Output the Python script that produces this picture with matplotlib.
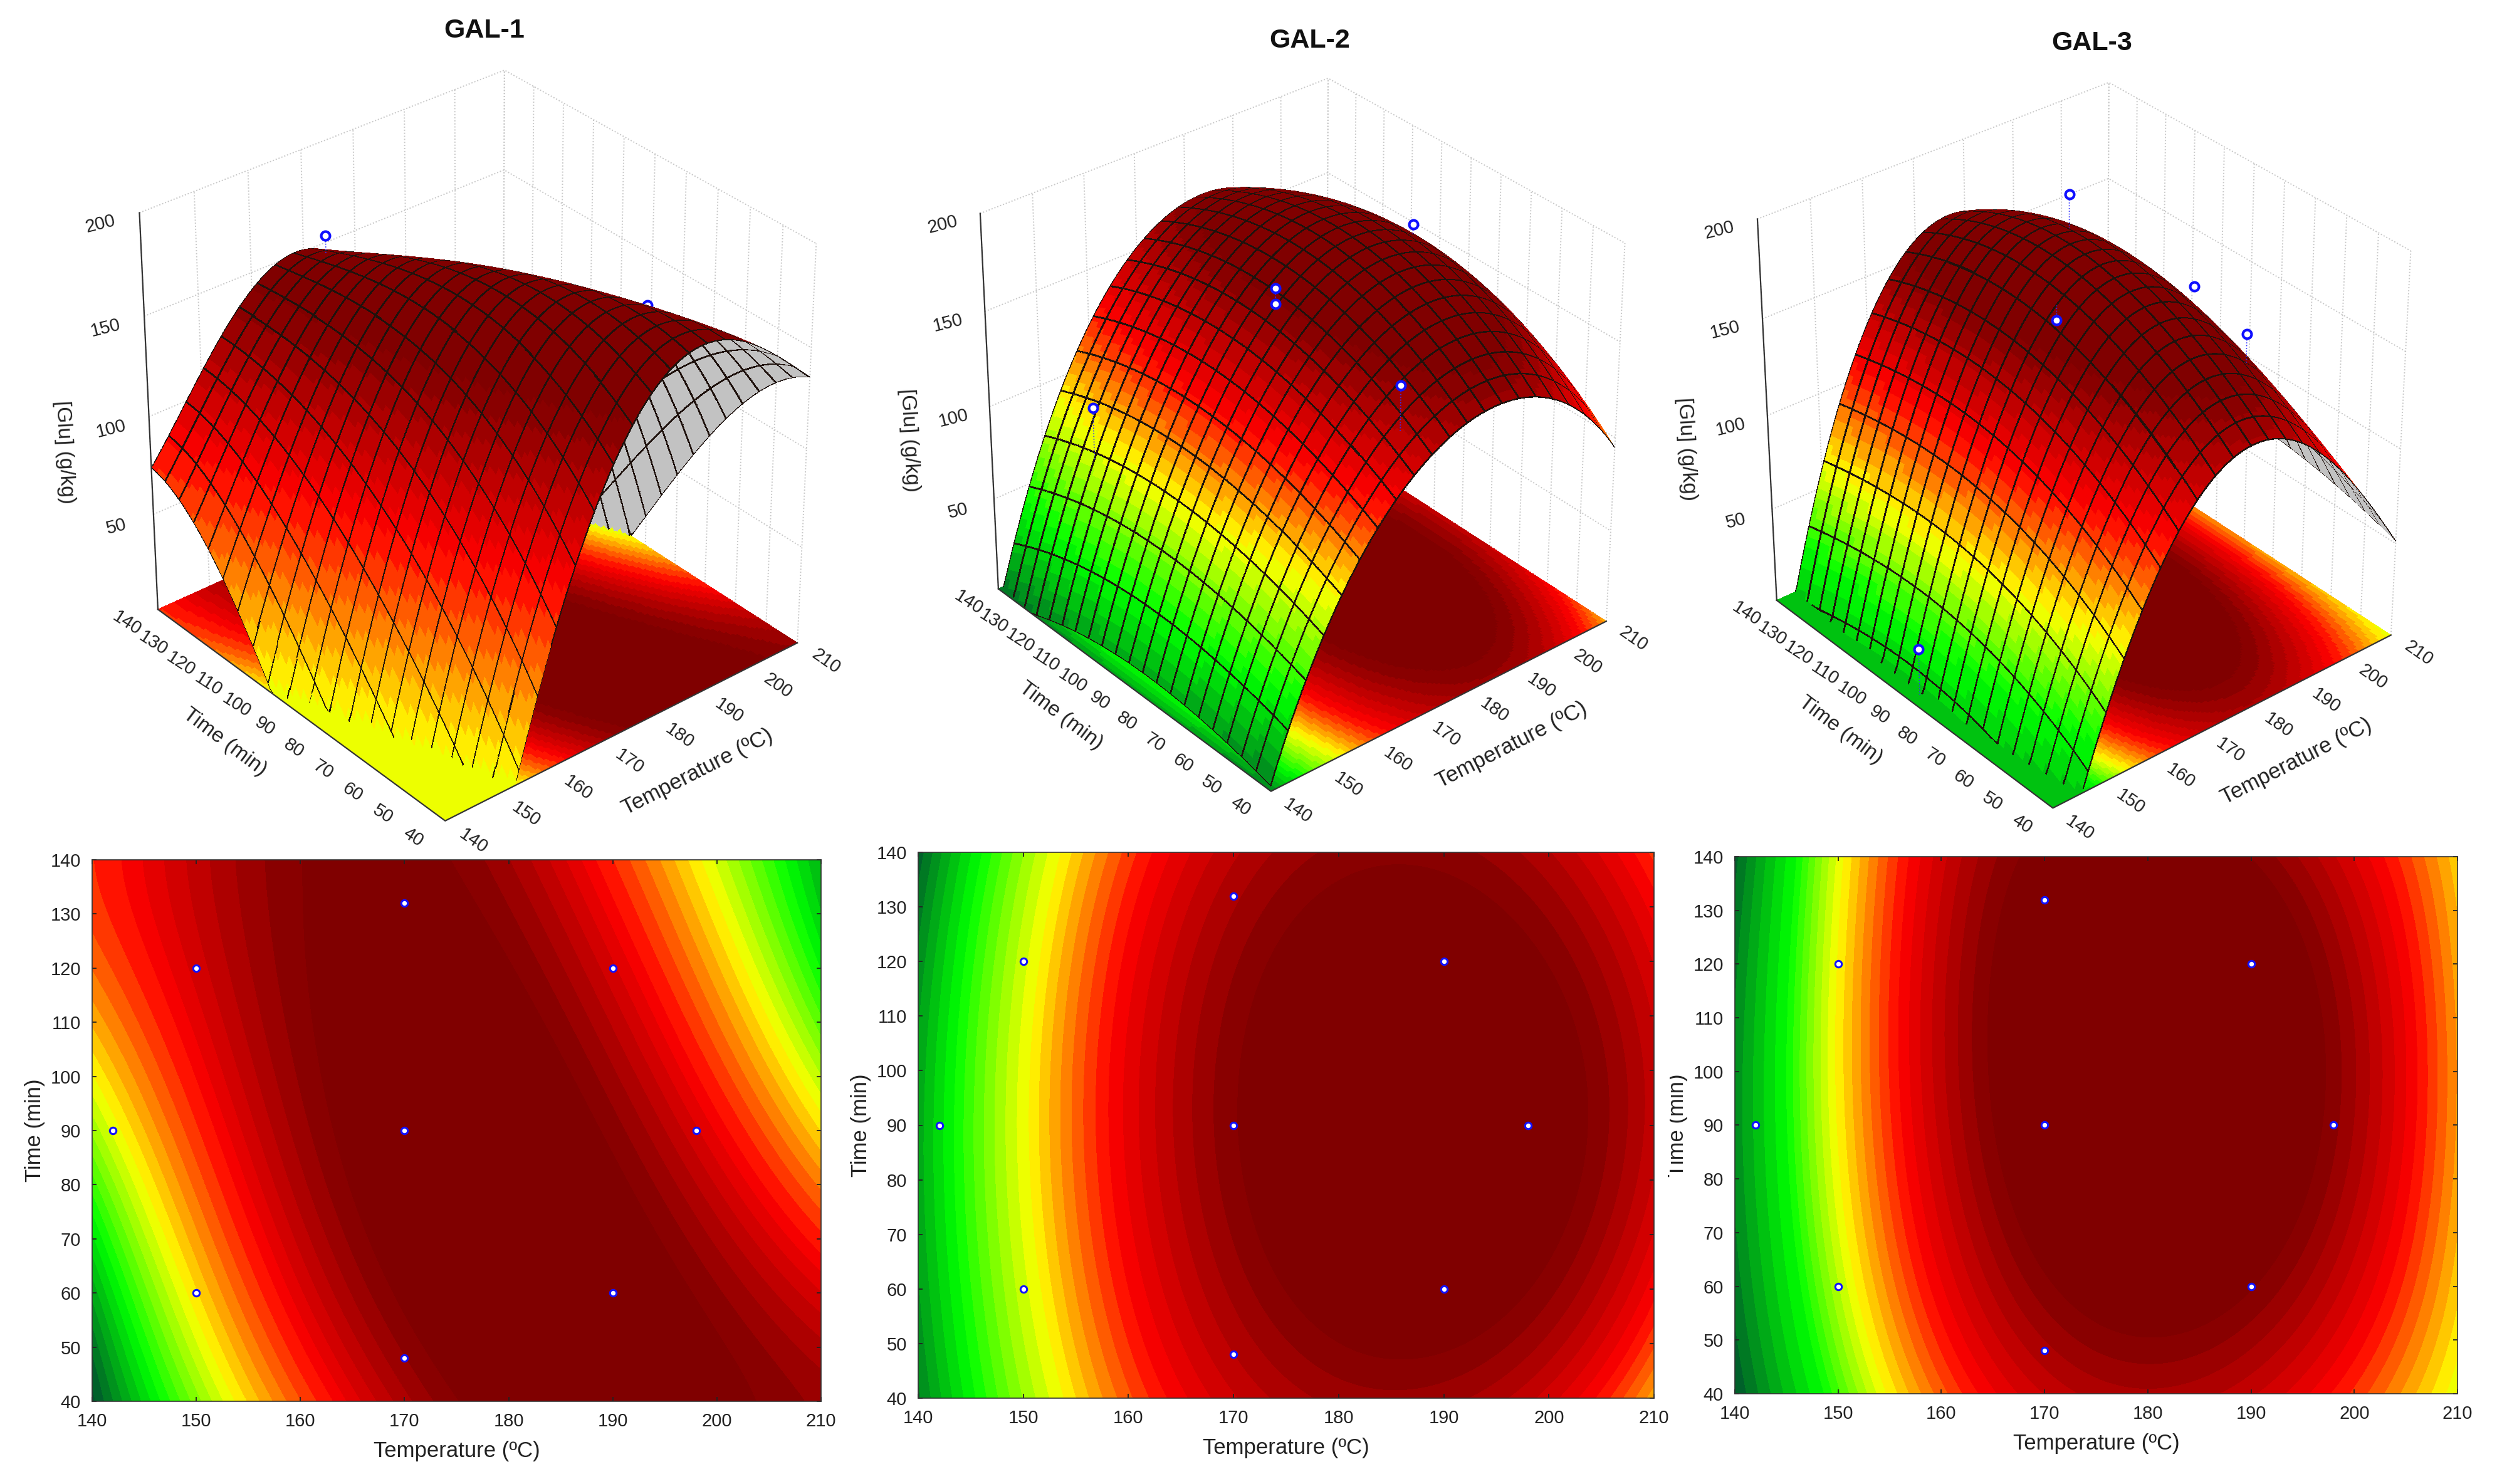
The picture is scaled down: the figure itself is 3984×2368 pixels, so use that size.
import numpy as np
import matplotlib
matplotlib.use("Agg")
import matplotlib.pyplot as plt
from numpy.polynomial import polynomial as P
from matplotlib.patches import Rectangle

plt.rcParams['font.family'] = ['Liberation Sans', 'DejaVu Sans']

W, H = 3984, 2368

titles = ["GAL-1", "GAL-2", "GAL-3"]
temp_nodes = [140, 150, 160, 170, 180, 190, 200, 210]
time_nodes = [40, 60, 80, 100, 120, 140]
temp_ticks = [140, 150, 160, 170, 180, 190, 200, 210]
time_ticks = [40, 50, 60, 70, 80, 90, 100, 110, 120, 130, 140]
glu_ticks = [50, 100, 150, 200]

glu_gal1 = [[-150, -117, -50, 0, 50, 72],
            [-45, 12, 50, 88, 110, 118],
            [72, 110, 125, 138, 145, 145],
            [125, 150, 160, 165, 158, 150],
            [155, 167, 171, 165, 150, 130],
            [163, 165, 155, 128, 110, 80],
            [160, 140, 110, 72, 25, -15],
            [135, 97, 55, -20, -72, -105]]
glu_gal2 = [[2, 11, 14, 13, 6, -8],
            [67, 76, 80, 81, 77, 66],
            [108, 122, 129, 129, 124, 112],
            [140, 152, 161, 162, 154, 145],
            [152, 166, 178, 179, 169, 158],
            [155, 170, 181, 182, 172, 160],
            [135, 158, 170, 171, 160, 145],
            [98, 122, 140, 141, 132, 115]]
glu_gal3 = [[-50, -35, -28, -28, -32, -45],
            [31, 50, 61, 65, 65, 61],
            [92, 114, 127, 132, 131, 123],
            [130, 153, 169, 174, 172, 160],
            [138, 165, 183, 190, 186, 170],
            [130, 156, 173, 179, 174, 157],
            [100, 123, 138, 142, 136, 118],
            [58, 70, 80, 82, 78, 72]]
tables = [glu_gal1, glu_gal2, glu_gal3]

# height differences read between the 3D views and the contour maps
lift_gal1 = [[0, 0, 0, 0, 0, 0], [0, 0, 0, 0, 0, 0], [0, 0, 0, 0, -6, -7],
             [4, 4, 4, 2, -4, -6], [8, 8, 8, 8, 6, 6], [8, 8, 8, 8, 8, 4],
             [8, 8, 8, 8, 4, 0], [0, 0, 0, 0, 0, 0]]
lift_gal2 = [[0, 0, 0, 0, 0, 0], [0, 0, 0, 0, 0, 0], [2, 2, 2, 4, 6, 6],
             [-7, 0, 2, 6, 12, 9], [-9, 0, 2, 6, 14, 9], [-11, -2, 0, 2, 6, 0],
             [-4, -6, -8, -8, -6, -4], [-4, -4, -4, -4, -4, -4]]
lift_gal3 = [[0, 0, 0, 0, 0, 0], [0, 0, 0, 0, 0, 0], [0, 0, 0, 0, 0, 0],
             [0, 0, 0, 0, -2, -4], [0, 0, -4, -6, -3, -2], [-4, -8, -12, -12, -10, -8],
             [-10, -14, -18, -20, -20, -18], [-5, -8, -10, -12, -12, -10]]
lifts = [lift_gal1, lift_gal2, lift_gal3]

# experimental design points (contour maps)
design_temp = [142, 150, 150, 170, 170, 170, 190, 190, 198]
design_time = [90, 60, 120, 48, 90, 132, 60, 120, 90]

# measured points seen in the 3D views; hidden = behind the surface
pts_temp = [[170, 190], [150, 170, 170, 198, 170], [190, 170, 190, 198, 142]]
pts_time = [[132, 60], [120, 90, 90, 90, 48], [120, 90, 60, 90, 90]]
pts_glu = [[165, 174], [107, 175, 167, 178, 165], [179, 163, 162, 150, 25]]
pts_hidden = [[False, True], [False, False, False, False, False], [False, False, False, True, False]]

# colour stops: value at dark green, green, yellow, red, dark red
stops = [[-150, -72, 5, 85, 147], [-10, 40, 85, 122, 162], [-50, 22, 63, 108, 155]]
stop_colors = np.array([[0, 85, 45], [0, 255, 0], [255, 255, 0], [255, 0, 0], [128, 0, 0]]) / 255.0
band_count = 7

# layout, in pixels of the final image (y downward)
rects2d = [(147, 1372, 1310, 2236), (1465, 1360, 2639, 2231), (2768, 1367, 3921, 2224)]
corner_px = [
    dict(front=(709, 1310), left=(252, 972), right=(1273, 1026), ztl=(224, 340), ztr=(1303, 388), ztb=(803, 112)),
    dict(front=(2028, 1263), left=(1593, 940), right=(2563, 991), ztl=(1564, 340), ztr=(2592, 388), ztb=(2119, 125)),
    dict(front=(3274, 1289), left=(2835, 959), right=(3814, 1013), ztl=(2805, 349), ztr=(3848, 401), ztb=(3364, 131)),
]
title_px = [(773, 49), (2090, 65), (3338, 69)]
ink = '#222222'


def smooth_fit(table, deg=(4, 3)):
    TT, tt = np.meshgrid(temp_nodes, time_nodes, indexing='ij')
    u = (TT.ravel() - 175.0) / 35.0
    v = (tt.ravel() - 90.0) / 50.0
    A = P.polyvander2d(u, v, deg)
    coef = np.linalg.lstsq(A, np.array(table, float).ravel(), rcond=None)[0].reshape(deg[0] + 1, deg[1] + 1)
    return lambda T, t: P.polyval2d((np.asarray(T, float) - 175.0) / 35.0, (np.asarray(t, float) - 90.0) / 50.0, coef)


def levels_for(stop):
    lv = [stop[0]]
    for a, b in zip(stop[:-1], stop[1:]):
        lv.extend(np.linspace(a, b, band_count + 1)[1:])
    return np.array(lv, float)


def color_of(val, stop):
    return np.stack([np.interp(val, stop, stop_colors[:, k]) for k in range(3)], axis=-1)


def band_colors(z, stop):
    lv = levels_for(stop)
    mids = np.r_[lv[0], 0.5 * (lv[:-1] + lv[1:]), lv[-1]]
    idx = np.searchsorted(lv, z)
    return color_of(mids[idx], stop)


def axis_grid(lo, hi, n, sub):
    edges = np.linspace(lo, hi, n + 1)
    pos, sgn, line = [lo], [0], []
    for i in range(n):
        pos.append(edges[i]); sgn.append(1); line.append(True)
        inner = np.linspace(edges[i], edges[i + 1], sub + 1)[1:-1]
        pos.extend(inner); sgn.extend([0] * len(inner))
        pos.append(edges[i + 1]); sgn.append(-1)
        line.extend([False] * sub)
    pos.append(hi); sgn.append(0); line.append(True)
    return np.array(pos), np.array(sgn, float), np.array(line)


def project(M, x, y, z):
    x = np.asarray(x, float); y = np.asarray(y, float); z = np.asarray(z, float)
    v = M @ np.vstack([x.ravel(), y.ravel(), z.ravel(), np.ones(x.size)])
    return (v[0] / v[3]).reshape(x.shape), (v[1] / v[3]).reshape(x.shape)


def fit_view(ax, tgt):
    X = np.array([140., 140, 210, 140, 210, 210])
    Y = np.array([40., 140, 40, 140, 40, 140])
    Z = np.array([0., 0, 0, 200, 200, 200])
    keys = ['front', 'left', 'right', 'ztl', 'ztr', 'ztb']
    T = np.array([[tgt[k][0], H - tgt[k][1]] for k in keys], float)

    def apply(p):
        ax.view_init(elev=p[0], azim=p[1])
        ax.set_box_aspect((p[3], 1, p[2]))
        ax.set_proj_type('persp', focal_length=p[4])

    def err(p):
        apply(p)
        px, py = project(ax.get_proj(), X, Y, Z)
        Q = np.c_[px, py]
        pm, tm = Q.mean(0), T.mean(0)
        s = ((Q - pm) * (T - tm)).sum() / ((Q - pm) ** 2).sum()
        r = s * (Q - pm) + tm - T
        return (r ** 2).sum(), s, tm - s * pm

    p = [34., -130., 1.05, 1.0, 0.6]
    step = [4., 4., .15, .1, .2]
    best = err(p)[0]
    for _ in range(7):
        for _ in range(6):
            for i in range(5):
                for sg in (1, -1):
                    q = list(p)
                    q[i] += sg * step[i]
                    if i == 4 and q[i] < .15:
                        continue
                    e = err(q)[0]
                    if e < best:
                        best, p = e, q
        step = [a * .5 for a in step]
    apply(p)
    _, s, c = err(p)
    L0 = 1000.0
    ax.set_position([0.2, 0.2, L0 / W, L0 / H])
    ax.apply_aspect()
    d0 = ax.transData.transform((0, 0))
    d1 = ax.transData.transform((1, 1))
    per = (d1 - d0)[0] / L0
    L = s / per
    ax.set_position([0.2, 0.2, L / W, L / H])
    ax.apply_aspect()
    d0 = ax.transData.transform((0, 0))
    ax.set_position([0.2 + (c[0] - d0[0]) / W, 0.2 + (c[1] - d0[1]) / H, L / W, L / H])
    ax.apply_aspect()
    return s


fig = plt.figure(figsize=(W / 100, H / 100), dpi=100, facecolor='white')

for n in range(3):
    value = smooth_fit(tables[n])
    lift = smooth_fit(lifts[n], deg=(3, 2))
    height = lambda T, t: np.maximum(value(T, t) + lift(T, t), 0)
    stop = stops[n]

    # ---------- 3D view ----------
    ax = fig.add_subplot(projection='3d', computed_zorder=False)
    ax.set_xlim(140, 210)
    ax.set_ylim(40, 140)
    ax.set_zlim(0, 200)
    s = fit_view(ax, corner_px[n])
    ax.set_axis_off()
    M = ax.get_proj()

    def put(x, y, z, txt, **kw):
        a, b = project(M, [x], [y], [z])
        d = ax.transData.transform((a[0], b[0]))
        fig.text(d[0] / W, d[1] / H, txt, ha='center', va='center', color=ink, **kw)

    grid_kw = dict(color='#c8c8c8', lw=1.4, ls=(0, (1, 1.5)), zorder=0)
    for T in temp_ticks:
        ax.plot([T, T], [140, 140], [0, 200], **grid_kw)
    for t in time_ticks:
        ax.plot([210, 210], [t, t], [0, 200], **grid_kw)
    for z in glu_ticks:
        ax.plot([140, 210, 210], [140, 140, 40], [z, z, z], **grid_kw)

    # floor
    fT = np.linspace(140, 210, 141)
    ft = np.linspace(40, 140, 141)
    FX, FY = np.meshgrid(fT, ft)
    cT, ct = np.meshgrid(0.5 * (fT[:-1] + fT[1:]), 0.5 * (ft[:-1] + ft[1:]))
    fc = band_colors(np.maximum(value(cT, ct), 0), stop)
    ax.plot_surface(FX, FY, np.zeros_like(FX), facecolors=fc, rstride=1, cstride=1, shade=False,
                    antialiased=False, linewidth=0, zorder=1)

    # measured points
    for T, t, z, hid in zip(pts_temp[n], pts_time[n], pts_glu[n], pts_hidden[n]):
        zo = 1.5 if hid else 6
        if not hid:
            ax.plot([T, T], [t, t], [z, float(height(T, t))], color='#3030ff', lw=1.2, ls=':', zorder=zo)
        ax.plot([T], [t], [z], 'o', ms=10, mfc='white', mec='#1010ff', mew=3, zorder=zo)

    # surface: fine facets, with thin dark strips of constant on-screen width for the mesh
    gT, sT, lT = axis_grid(140, 210, 20, 7)
    gt, st, lt = axis_grid(40, 140, 20, 5)
    PX, PY = np.meshgrid(gT, gt)
    x0p, y0p = project(M, PX - .2, PY, height(PX - .2, PY))
    x1p, y1p = project(M, PX + .2, PY, height(PX + .2, PY))
    speedT = s * np.hypot(x1p - x0p, y1p - y0p) / .4
    x0p, y0p = project(M, PX, PY - .4, height(PX, PY - .4))
    x1p, y1p = project(M, PX, PY + .4, height(PX, PY + .4))
    speedt = s * np.hypot(x1p - x0p, y1p - y0p) / .8
    half_px = 1.5
    SX = PX + sT[None, :] * np.clip(half_px / speedT, .015, .2)
    SY = PY + st[:, None] * np.clip(half_px / speedt, .015, .4)
    SZ = height(SX, SY)
    cX = 0.25 * (SX[:-1, :-1] + SX[1:, :-1] + SX[:-1, 1:] + SX[1:, 1:])
    cY = 0.25 * (SY[:-1, :-1] + SY[1:, :-1] + SY[:-1, 1:] + SY[1:, 1:])
    cz = np.maximum(value(cX, cY), 0)
    above = height(cX, cY) > 0
    rgb = band_colors(cz, stop)
    px, py = project(M, SX, SY, SZ)
    cross = (px[1:, 1:] - px[:-1, :-1]) * (py[:-1, 1:] - py[1:, :-1]) - (py[1:, 1:] - py[:-1, :-1]) * (px[:-1, 1:] - px[1:, :-1])
    fx, fy = project(M, SX, SY, np.zeros_like(SX))
    cross0 = (fx[1:, 1:] - fx[:-1, :-1]) * (fy[:-1, 1:] - fy[1:, :-1]) - (fy[1:, 1:] - fy[:-1, :-1]) * (fx[:-1, 1:] - fx[1:, :-1])
    rgb[(np.sign(cross) != np.sign(cross0)) & above] = (0.76, 0.76, 0.76)
    rgb[(lT[None, :] | lt[:, None]) & above] = (0.12, 0.07, 0.05)
    ax.plot_surface(SX, SY, SZ, facecolors=rgb, rstride=1, cstride=1, shade=False,
                    antialiased=False, linewidth=0, zorder=2)

    # axis frame and labels
    line_kw = dict(color='#333333', lw=1.6, zorder=3)
    ax.plot([140, 140], [140, 140], [0, 200], **line_kw)
    ax.plot([140, 140, 210], [140, 40, 40], [0, 0, 0], **line_kw)
    for T in temp_ticks:
        put(T, 31, 0, str(T), fontsize=21, rotation=-35)
    for t in time_ticks:
        put(134, t, 0, str(t), fontsize=21, rotation=-33)
    for z in glu_ticks:
        put(133.6, 141.3, z, str(z), fontsize=21, rotation=14)
    put(176, 19, 0, "Temperature (ºC)", fontsize=25, rotation=27)
    put(127, 91, 0, "Time (min)", fontsize=24, rotation=-37)
    put(130, 152, 82, "[Glu] (g/kg)", fontsize=24, rotation=273)

    tx, ty = title_px[n]
    fig.text(tx / W, 1 - ty / H, titles[n], fontsize=31, fontweight='bold', ha='center', va='center', color='#111111')

    # ---------- contour map ----------
    x0, y0, x1, y1 = rects2d[n]
    a2 = fig.add_axes([x0 / W, 1 - y1 / H, (x1 - x0) / W, (y1 - y0) / H])
    gx, gy = np.meshgrid(np.linspace(140, 210, 500), np.linspace(40, 140, 400))
    gz = value(gx, gy)
    lv = levels_for(stop)
    edges = np.r_[-1e4, lv, 1e4]
    mids = np.r_[lv[0], 0.5 * (lv[:-1] + lv[1:]), lv[-1]]
    a2.contourf(gx, gy, gz, levels=edges, colors=[tuple(c) for c in color_of(mids, stop)], antialiased=False)
    a2.plot(design_temp, design_time, 'o', ms=7.5, mfc='white', mec='#1010ff', mew=2.2, ls='none', clip_on=False)
    a2.set_xlim(140, 210)
    a2.set_ylim(40, 140)
    a2.set_xticks(temp_ticks)
    a2.set_yticks(time_ticks)
    a2.tick_params(direction='in', length=5, width=1.3, top=True, right=True, labelsize=21, pad=13,
                   colors=ink)
    for sp in a2.spines.values():
        sp.set_linewidth(1.2)
        sp.set_color('#333333')
    a2.set_xlabel("Temperature (ºC)", fontsize=25, color=ink, labelpad=12)
    a2.set_ylabel("Time (min)", fontsize=25, color=ink, labelpad=6)

# the third map's axis title is partly covered in the reference
fig.add_artist(Rectangle((2646 / W, 1 - 1875 / H), 18 / W, 170 / H, transform=fig.transFigure,
                         facecolor='white', edgecolor='none', zorder=20))

fig.savefig("out.png", dpi=100, facecolor='white')
